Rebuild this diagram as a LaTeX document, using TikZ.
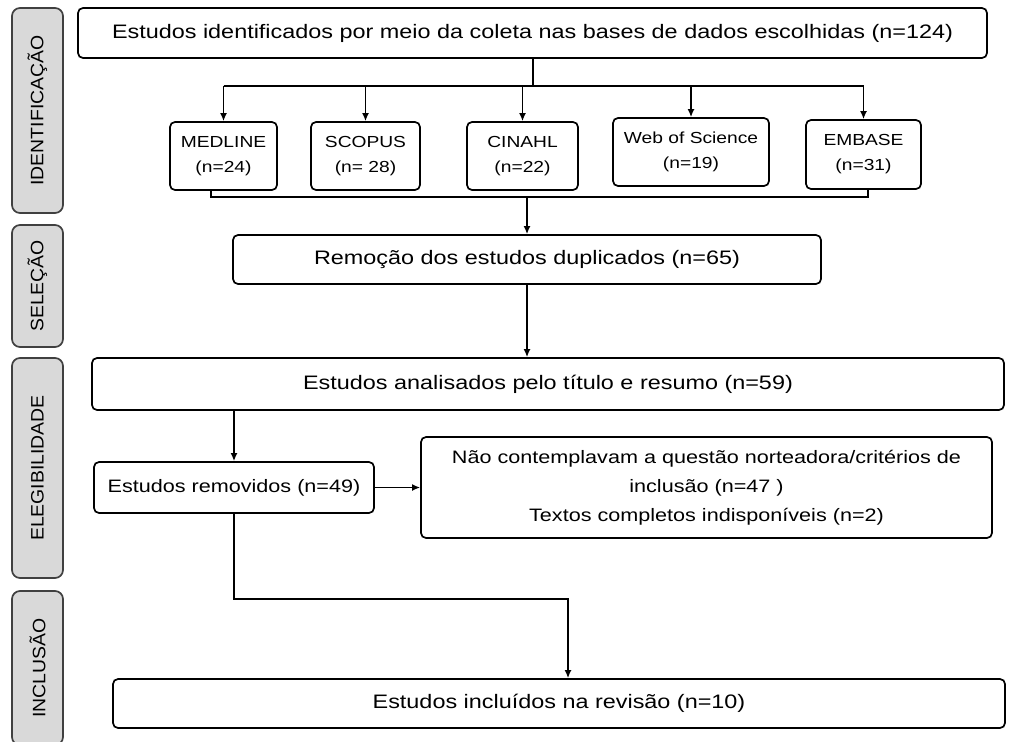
\documentclass[tikz,border=0pt]{standalone}
\usepackage{fontspec}
\setmainfont{Liberation Sans}[FakeStretch=1.2]
\newfontfamily\sidefont{Liberation Sans}[FakeStretch=1.08]
\usetikzlibrary{arrows.meta}
\definecolor{sidegray}{HTML}{D9D9D9}
\definecolor{sideline}{HTML}{404040}
\begin{document}
\begin{tikzpicture}[x=1pt,y=-1pt,
    line width=1.7pt,>={Latex[length=8pt,width=7pt]},
    stage/.style={draw=sideline,fill=sidegray,rounded corners=8pt,rotate=90,
      minimum height=51pt,inner sep=0pt,font=\sidefont\fontsize{18}{20}\selectfont},
    box/.style={draw,rounded corners=5pt,inner sep=0pt,align=center,
      font=\fontsize{19.5}{24}\selectfont},
    base/.style={box,font=\fontsize{16}{25}\selectfont,minimum height=68pt}]
  \useasboundingbox (0,0) rectangle (1016,741);
  % fases
  \node[stage,minimum width=205pt] (sid) at (37.5,110.5) {IDENTIFICAÇÃO};
  \node[stage,minimum width=122pt] (ssel) at (37.5,286) {SELEÇÃO};
  \node[stage,minimum width=220pt] (seleg) at (37.5,468) {ELEGIBILIDADE};
  \node[stage,minimum width=154pt] (sinc) at (37.5,668) {INCLUSÃO};
  % caixas
  \node[box,minimum width=909pt,minimum height=50pt] (total) at (532.5,33)
    {Estudos identificados por meio da coleta nas bases de dados escolhidas (n=124)};
  \node[base,minimum width=107pt] (medline) at (223.5,156) {MEDLINE\\(n=24)};
  \node[base,minimum width=109pt] (scopus) at (365.5,156) {SCOPUS\\(n= 28)};
  \node[base,minimum width=111pt] (cinahl) at (522.5,156) {CINAHL\\(n=22)};
  \node[base,minimum width=156pt] (wos) at (691,152) {Web of Science\\(n=19)};
  \node[base,minimum width=115pt,minimum height=69pt] (embase) at (863.5,154.5) {EMBASE\\(n=31)};
  \node[box,minimum width=588pt,minimum height=49pt] (remocao) at (527,259.5)
    {Remoção dos estudos duplicados (n=65)};
  \node[box,minimum width=912pt,minimum height=52pt] (analisados) at (548,384)
    {Estudos analisados pelo título e resumo (n=59)};
  \node[box,minimum width=280pt,minimum height=51pt,font=\fontsize{18}{22}\selectfont]
    (removidos) at (234,487.5) {Estudos removidos (n=49)};
  \node[box,minimum width=571pt,minimum height=101pt,font=\fontsize{18}{29}\selectfont]
    (nao) at (706.5,487.5) {Não contemplavam a questão norteadora/critérios de\\
    inclusão (n=47 )\\Textos completos indisponíveis (n=2)};
  \node[box,minimum width=892pt,minimum height=49pt] (incluidos) at (559,703.5)
    {Estudos incluídos na revisão (n=10)};
  % ligacoes
  \coordinate (split) at (533,86);
  \coordinate (bl) at (211,197);
  \coordinate (br) at (868,197);
  \coordinate (turn) at (568,599);
  \draw (total.south -| split) -- (split);
  \draw (medline.north |- split) -- (embase.north |- split);
  \foreach \b in {medline,scopus,cinahl,wos,embase}
    \draw[->] (\b.north |- split) -- (\b.north);
  \draw (medline.south -| bl) -- (bl) -- (br) -- (embase.south -| br);
  \draw[->] (remocao.north |- bl) -- (remocao.north);
  \draw[->] (remocao.south) -- (remocao.south |- analisados.north);
  \draw[->] (removidos.north |- analisados.south) -- (removidos.north);
  \draw[->] (removidos.east) -- (nao.west);
  \draw[->] (removidos.south) |- (turn) -- (turn |- incluidos.north);
\end{tikzpicture}
\end{document}
